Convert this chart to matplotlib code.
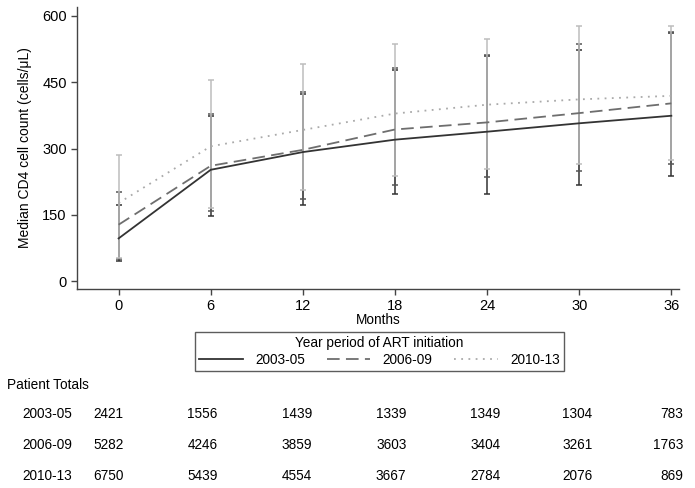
import matplotlib
matplotlib.use('Agg')
import matplotlib.pyplot as plt
import matplotlib.transforms as mtransforms

plt.rcParams['font.family'] = ['Liberation Sans', 'DejaVu Sans']
plt.rcParams['font.size'] = 9.8

# meses de seguimiento
months = [0, 6, 12, 18, 24, 30, 36]
periods = ['2003-05', '2006-09', '2010-13']

# mediana CD4 por periodo
median_0305 = [97, 252, 292, 320, 338, 357, 374]
median_0609 = [128, 261, 297, 343, 359, 380, 402]
median_1013 = [177, 305, 342, 379, 399, 411, 419]

# rango intercuartil
lower_0305 = [46, 147, 173, 198, 197, 217, 239]
upper_0305 = [172, 373, 424, 477, 509, 523, 560]
lower_0609 = [50, 158, 186, 217, 236, 250, 265]
upper_0609 = [201, 379, 428, 481, 512, 536, 564]
lower_1013 = [53, 166, 206, 237, 254, 265, 275]
upper_1013 = [286, 454, 491, 536, 547, 577, 577]

# totales de pacientes
totals_0305 = [2421, 1556, 1439, 1339, 1349, 1304, 783]
totals_0609 = [5282, 4246, 3859, 3603, 3404, 3261, 1763]
totals_1013 = [6750, 5439, 4554, 3667, 2784, 2076, 869]

fig = plt.figure(figsize=(6.95, 4.88), dpi=100)
ax = fig.add_axes([0.111, 0.408, 0.866, 0.578])

series = [
    (median_0305, lower_0305, upper_0305, '#333333', '#333333', '-', periods[0]),
    (median_0609, lower_0609, upper_0609, '#6e6e6e', '#555555', (0, (7, 3.5)), periods[1]),
    (median_1013, lower_1013, upper_1013, '#aaaaaa', '#bdbdbd', (0, (1, 3)), periods[2]),
]

for med, lo, hi, col, ecol, ls, lab in series:
    err = [[m - l for m, l in zip(med, lo)], [h - m for m, h in zip(med, hi)]]
    ax.errorbar(months, med, yerr=err, fmt='none', ecolor=ecol, elinewidth=1.1,
                capsize=2.5, capthick=1.1, zorder=2)

for med, lo, hi, col, ecol, ls, lab in series:
    ax.plot(months, med, color=col, linestyle=ls, linewidth=1.3, label=lab, zorder=3)

ax.set_xlim(-2.7, 36.5)
ax.set_ylim(-17, 620)
ax.set_xticks(months)
ax.set_yticks([0, 150, 300, 450, 600])
ax.spines['top'].set_visible(False)
ax.spines['right'].set_visible(False)
for s in ['left', 'bottom']:
    ax.spines[s].set_color('#444444')
    ax.spines[s].set_linewidth(1.0)
ax.tick_params(colors='#444444', labelcolor='black', length=4, width=1.0, labelsize=10.5)
ax.set_xlabel('Months', labelpad=0)
ax.set_ylabel('Median CD4 cell count (cells/μL)', labelpad=7, fontsize=10)

leg = fig.legend(loc='center', bbox_to_anchor=(0.546, 0.279), ncol=3,
                 title='Year period of ART initiation', title_fontsize=9.8,
                 frameon=True, fancybox=False, edgecolor='#333333',
                 handlelength=3.2, handletextpad=0.9, columnspacing=1.6,
                 borderpad=0.3, labelspacing=0.2)
leg.get_frame().set_linewidth(1.0)

# tabla de totales
trans = mtransforms.blended_transform_factory(ax.transData, fig.transFigure)
col_x = [0.3, 6.45, 12.6, 18.75, 24.85, 30.85, 36.8]
fig.text(0.010, 0.211, 'Patient Totals', va='center')
rows_y = [0.152, 0.088, 0.025]
for per, tot, yy in zip(periods, [totals_0305, totals_0609, totals_1013], rows_y):
    fig.text(0.032, yy, per, va='center')
    for xx, v in zip(col_x, tot):
        ax.text(xx, yy, str(v), transform=trans, ha='right', va='center')

fig.savefig('out.png', dpi=100)
